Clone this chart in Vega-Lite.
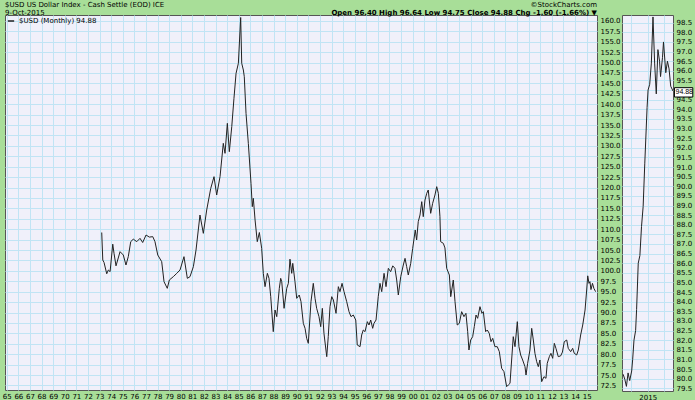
{
  "$schema": "https://vega.github.io/schema/vega-lite/v6.json",
  "background": "#a8de98",
  "padding": {"left": 1, "top": 0, "right": 0, "bottom": 0},
  "bounds": "flush",
  "spacing": 25,
  "config": {
    "font": "DejaVu Sans",
    "view": {"fill": "#f0f0fa", "stroke": "#555555", "strokeWidth": 1},
    "axis": {"labelFont": "DejaVu Sans", "labelFontSize": 7, "labelColor": "#000000", "gridColor": "#c0e4f4", "gridWidth": 1, "gridOpacity": 1, "domain": false, "ticks": false, "labelOverlap": false, "labelPadding": 3},
    "title": {"font": "DejaVu Sans", "fontSize": 7, "fontWeight": "normal", "color": "#000000", "subtitleFont": "DejaVu Sans", "subtitleFontSize": 7, "subtitleColor": "#000000", "subtitlePadding": 1, "offset": -1}
  },
  "datasets": {
    "monthly": [
      {"t":1973.19,"v":109.2},{"t":1973.28,"v":102.6},{"t":1973.39,"v":102.0},{"t":1973.62,"v":99.3},{"t":1973.76,"v":100.2},{"t":1973.91,"v":99.8},{"t":1974.14,"v":106.4},{"t":1974.25,"v":104.2},{"t":1974.42,"v":101.2},{"t":1974.77,"v":104.6},{"t":1975.05,"v":103.8},{"t":1975.28,"v":101.4},{"t":1975.48,"v":103.4},{"t":1975.69,"v":107.0},{"t":1975.91,"v":107.6},{"t":1976.21,"v":107.0},{"t":1976.49,"v":107.8},{"t":1976.72,"v":106.8},{"t":1977.01,"v":108.6},{"t":1977.29,"v":108.1},{"t":1977.59,"v":108.2},{"t":1977.78,"v":107.0},{"t":1978.02,"v":103.8},{"t":1978.36,"v":102.2},{"t":1978.56,"v":97.4},{"t":1978.84,"v":95.8},{"t":1979.02,"v":97.8},{"t":1979.36,"v":98.6},{"t":1979.66,"v":99.4},{"t":1979.94,"v":100.2},{"t":1980.28,"v":103.4},{"t":1980.57,"v":98.2},{"t":1980.80,"v":98.6},{"t":1981.09,"v":101.0},{"t":1981.32,"v":105.0},{"t":1981.66,"v":113.4},{"t":1981.95,"v":109.0},{"t":1982.24,"v":114.6},{"t":1982.59,"v":119.8},{"t":1982.87,"v":122.6},{"t":1983.10,"v":118.2},{"t":1983.39,"v":122.6},{"t":1983.67,"v":130.6},{"t":1983.82,"v":128.2},{"t":1984.02,"v":135.4},{"t":1984.19,"v":128.6},{"t":1984.40,"v":134.6},{"t":1984.59,"v":141.4},{"t":1984.77,"v":147.4},{"t":1984.97,"v":149.8},{"t":1985.17,"v":160.8},{"t":1985.26,"v":149.8},{"t":1985.40,"v":148.2},{"t":1985.48,"v":146.6},{"t":1985.63,"v":137.8},{"t":1985.83,"v":130.6},{"t":1986.06,"v":121.0},{"t":1986.17,"v":115.4},{"t":1986.26,"v":117.4},{"t":1986.41,"v":112.2},{"t":1986.60,"v":107.0},{"t":1986.78,"v":109.2},{"t":1986.98,"v":105.4},{"t":1987.12,"v":99.4},{"t":1987.27,"v":96.2},{"t":1987.47,"v":99.4},{"t":1987.61,"v":98.2},{"t":1987.76,"v":93.8},{"t":1987.98,"v":85.4},{"t":1988.13,"v":90.6},{"t":1988.28,"v":89.0},{"t":1988.50,"v":95.8},{"t":1988.62,"v":98.2},{"t":1988.71,"v":97.4},{"t":1988.91,"v":91.0},{"t":1989.14,"v":95.8},{"t":1989.28,"v":97.0},{"t":1989.42,"v":102.8},{"t":1989.57,"v":99.4},{"t":1989.66,"v":101.8},{"t":1989.85,"v":97.4},{"t":1990.00,"v":93.4},{"t":1990.22,"v":94.2},{"t":1990.37,"v":92.6},{"t":1990.57,"v":87.4},{"t":1990.72,"v":86.2},{"t":1990.86,"v":83.8},{"t":1991.00,"v":82.6},{"t":1991.23,"v":92.6},{"t":1991.43,"v":97.0},{"t":1991.58,"v":93.4},{"t":1991.72,"v":91.0},{"t":1991.92,"v":89.0},{"t":1992.07,"v":86.6},{"t":1992.21,"v":91.0},{"t":1992.35,"v":85.0},{"t":1992.59,"v":79.4},{"t":1992.72,"v":84.2},{"t":1992.87,"v":91.4},{"t":1993.02,"v":93.8},{"t":1993.16,"v":93.0},{"t":1993.39,"v":89.8},{"t":1993.59,"v":96.2},{"t":1993.73,"v":95.0},{"t":1993.91,"v":97.0},{"t":1994.08,"v":95.0},{"t":1994.31,"v":92.6},{"t":1994.51,"v":90.2},{"t":1994.68,"v":89.0},{"t":1994.88,"v":89.4},{"t":1995.09,"v":88.2},{"t":1995.22,"v":82.2},{"t":1995.46,"v":81.8},{"t":1995.60,"v":84.6},{"t":1995.74,"v":85.8},{"t":1995.89,"v":85.4},{"t":1996.09,"v":87.8},{"t":1996.23,"v":87.0},{"t":1996.38,"v":88.2},{"t":1996.55,"v":86.2},{"t":1996.66,"v":87.4},{"t":1996.84,"v":88.2},{"t":1997.03,"v":93.8},{"t":1997.18,"v":97.0},{"t":1997.33,"v":95.0},{"t":1997.53,"v":99.4},{"t":1997.70,"v":96.2},{"t":1997.90,"v":100.6},{"t":1998.10,"v":99.8},{"t":1998.28,"v":101.2},{"t":1998.47,"v":100.6},{"t":1998.62,"v":97.8},{"t":1998.76,"v":94.2},{"t":1998.97,"v":98.6},{"t":1999.19,"v":101.4},{"t":1999.34,"v":103.0},{"t":1999.48,"v":101.0},{"t":1999.62,"v":99.0},{"t":1999.83,"v":101.8},{"t":2000.00,"v":105.4},{"t":2000.22,"v":109.8},{"t":2000.34,"v":107.4},{"t":2000.48,"v":111.8},{"t":2000.63,"v":113.4},{"t":2000.78,"v":116.6},{"t":2000.91,"v":113.0},{"t":2001.06,"v":117.0},{"t":2001.21,"v":118.6},{"t":2001.34,"v":119.4},{"t":2001.55,"v":113.8},{"t":2001.72,"v":116.2},{"t":2001.92,"v":118.2},{"t":2002.07,"v":120.2},{"t":2002.21,"v":118.6},{"t":2002.35,"v":113.0},{"t":2002.41,"v":107.0},{"t":2002.64,"v":106.6},{"t":2002.78,"v":105.5},{"t":2002.93,"v":100.6},{"t":2003.16,"v":99.0},{"t":2003.28,"v":93.8},{"t":2003.50,"v":97.8},{"t":2003.65,"v":92.6},{"t":2003.84,"v":87.0},{"t":2004.02,"v":87.4},{"t":2004.22,"v":90.2},{"t":2004.42,"v":89.0},{"t":2004.59,"v":89.8},{"t":2004.74,"v":85.4},{"t":2004.85,"v":81.0},{"t":2005.00,"v":83.4},{"t":2005.17,"v":84.2},{"t":2005.31,"v":86.6},{"t":2005.46,"v":89.4},{"t":2005.60,"v":88.6},{"t":2005.80,"v":91.4},{"t":2005.97,"v":89.8},{"t":2006.09,"v":90.2},{"t":2006.29,"v":85.4},{"t":2006.43,"v":85.8},{"t":2006.60,"v":85.0},{"t":2006.75,"v":83.0},{"t":2006.90,"v":83.8},{"t":2007.09,"v":81.8},{"t":2007.29,"v":81.8},{"t":2007.47,"v":80.6},{"t":2007.67,"v":76.6},{"t":2007.87,"v":75.8},{"t":2008.10,"v":72.2},{"t":2008.24,"v":72.6},{"t":2008.39,"v":73.0},{"t":2008.53,"v":78.6},{"t":2008.67,"v":84.2},{"t":2008.82,"v":81.8},{"t":2009.02,"v":87.8},{"t":2009.16,"v":81.8},{"t":2009.31,"v":79.8},{"t":2009.48,"v":78.6},{"t":2009.68,"v":77.0},{"t":2009.77,"v":75.0},{"t":2009.91,"v":77.8},{"t":2010.11,"v":81.0},{"t":2010.26,"v":86.2},{"t":2010.40,"v":83.4},{"t":2010.54,"v":80.2},{"t":2010.69,"v":78.2},{"t":2010.83,"v":77.0},{"t":2010.97,"v":78.6},{"t":2011.12,"v":73.4},{"t":2011.32,"v":74.6},{"t":2011.49,"v":74.2},{"t":2011.60,"v":77.8},{"t":2011.78,"v":79.4},{"t":2011.92,"v":80.2},{"t":2012.07,"v":79.0},{"t":2012.21,"v":82.6},{"t":2012.35,"v":81.4},{"t":2012.55,"v":79.4},{"t":2012.76,"v":79.6},{"t":2012.91,"v":80.5},{"t":2013.07,"v":83.0},{"t":2013.28,"v":83.4},{"t":2013.41,"v":81.4},{"t":2013.62,"v":80.6},{"t":2013.79,"v":81.4},{"t":2013.93,"v":80.2},{"t":2014.14,"v":79.8},{"t":2014.28,"v":81.0},{"t":2014.48,"v":84.6},{"t":2014.66,"v":87.0},{"t":2014.86,"v":90.6},{"t":2015.00,"v":95.4},{"t":2015.09,"v":98.8},{"t":2015.20,"v":97.0},{"t":2015.28,"v":97.4},{"t":2015.37,"v":95.5},{"t":2015.50,"v":97.0},{"t":2015.62,"v":95.8},{"t":2015.77,"v":95.0}
    ],
    "recent": [
      {"t":2014.25,"v":80.23},{"t":2014.30,"v":79.97},{"t":2014.35,"v":79.6},{"t":2014.40,"v":80.3},{"t":2014.45,"v":79.9},{"t":2014.51,"v":80.4},{"t":2014.54,"v":81.0},{"t":2014.58,"v":82.0},{"t":2014.63,"v":82.5},{"t":2014.66,"v":83.6},{"t":2014.71,"v":86.0},{"t":2014.76,"v":86.4},{"t":2014.81,"v":87.9},{"t":2014.86,"v":88.95},{"t":2014.91,"v":91.2},{"t":2014.98,"v":94.1},{"t":2015.01,"v":95.0},{"t":2015.06,"v":95.3},{"t":2015.11,"v":96.4},{"t":2015.16,"v":98.8},{"t":2015.21,"v":96.4},{"t":2015.26,"v":94.8},{"t":2015.31,"v":97.1},{"t":2015.36,"v":96.5},{"t":2015.39,"v":95.7},{"t":2015.45,"v":96.7},{"t":2015.48,"v":97.5},{"t":2015.55,"v":95.9},{"t":2015.60,"v":96.5},{"t":2015.65,"v":96.1},{"t":2015.70,"v":95.2},{"t":2015.77,"v":94.95}
    ]
  },
  "hconcat": [
    {
      "width": 592,
      "height": 375,
      "title": {"text": "$USD  US Dollar Index - Cash Settle (EOD) ICE", "subtitle": "9-Oct-2015", "anchor": "start", "frame": "group"},
      "data": {"name": "monthly"},
      "mark": {"type": "line", "strokeWidth": 1},
      "encoding": {
        "x": {"field": "t", "type": "quantitative", "scale": {"domain": [1964.85, 2015.89], "nice": false, "zero": false},
              "axis": {"orient": "bottom", "title": null, "grid": true, "format": "d", "labelExpr": "slice(datum.label, -2)", "labelFlush": false, "labelOverlap": false, "labelPadding": 2,
                       "values": [1965,1966,1967,1968,1969,1970,1971,1972,1973,1974,1975,1976,1977,1978,1979,1980,1981,1982,1983,1984,1985,1986,1987,1988,1989,1990,1991,1992,1993,1994,1995,1996,1997,1998,1999,2000,2001,2002,2003,2004,2005,2006,2007,2008,2009,2010,2011,2012,2013,2014,2015]}},
        "y": {"field": "v", "type": "quantitative", "scale": {"domain": [71.4, 161.4], "nice": false, "zero": false},
              "axis": {"orient": "right", "title": null, "grid": true, "format": ".1f", "labelOverlap": false,
                       "values": [72.5,75,77.5,80,82.5,85,87.5,90,92.5,95,97.5,100,102.5,105,107.5,110,112.5,115,117.5,120,122.5,125,127.5,130,132.5,135,137.5,140,142.5,145,147.5,150,152.5,155,157.5,160]}},
        "color": {"datum": "$USD (Monthly) 94.88", "type": "nominal", "scale": {"range": ["#222222"]},
                  "legend": {"orient": "top-left", "title": null, "offset": 1, "padding": 1, "symbolType": "stroke", "symbolSize": 40, "symbolStrokeWidth": 1.5, "labelFontSize": 7, "labelFont": "DejaVu Sans", "labelColor": "#000000"}}
      }
    },
    {
      "width": 51,
      "height": 376,
      "title": {"text": "©StockCharts.com", "subtitle": "Open 96.40  High 96.64  Low 94.75  Close 94.88  Chg -1.60 (-1.66%) ▼", "anchor": "start", "align": "right", "frame": "group", "dx": -25, "subtitleFontWeight": "bold"},
      "encoding": {
        "x": {"field": "t", "type": "quantitative", "scale": {"domain": [2014.215, 2015.77], "nice": false, "zero": false},
              "axis": {"orient": "bottom", "title": null, "grid": true, "labelOverlap": false, "labelFlush": false, "labelPadding": 2, "labelExpr": "abs(datum.value - 2015) < 0.01 ? '2015' : ''", "values": [2014.5, 2015, 2015.5]}},
        "y": {"field": "v", "type": "quantitative", "scale": {"domain": [79.36, 98.9], "nice": false, "zero": false},
              "axis": {"orient": "right", "title": null, "grid": true, "format": ".1f", "labelOverlap": false,
                       "values": [79.5,80,80.5,81,81.5,82,82.5,83,83.5,84,84.5,85,85.5,86,86.5,87,87.5,88,88.5,89,89.5,90,90.5,91,91.5,92,92.5,93,93.5,94,94.5,95,95.5,96,96.5,97,97.5,98,98.5]}}
      },
      "layer": [
        {
          "data": {"name": "recent"},
          "mark": {"type": "line", "color": "#222222", "strokeWidth": 1}
        },
        {
          "data": {"values": [{"t": 2015.77, "v": 94.88, "label": "94.88"}]},
          "mark": {"type": "point", "shape": "M0.08,-0.26H1.1V0.26H0.08Z", "size": 1296, "filled": true, "fill": "#ffffff", "stroke": "#000000", "strokeWidth": 1, "opacity": 1}
        },
        {
          "data": {"values": [{"t": 2015.77, "v": 94.88, "label": "94.88"}]},
          "mark": {"type": "text", "align": "left", "dx": 2.5, "fontSize": 7, "font": "Liberation Sans", "color": "#000000"},
          "encoding": {"text": {"field": "label"}}
        }
      ]
    }
  ]
}
